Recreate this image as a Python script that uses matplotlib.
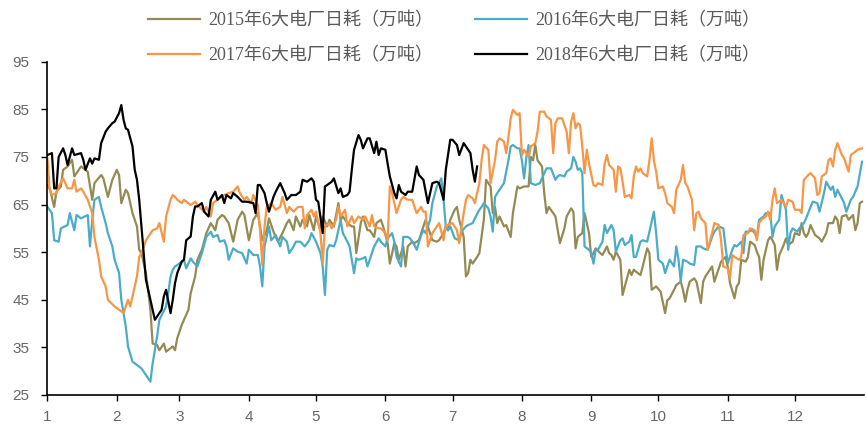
import matplotlib
matplotlib.use("Agg")
import matplotlib.pyplot as plt

# day-of-year positions and values (万吨)
d2015 = [0,1,3,4,6,7,9,11,12,14,15,18,20,21,24,25,27,29,31,32,33,35,36,38,40,41,42,44,45,46,47,49,50,52,53,56,
         57,58,60,61,63,64,66,67,69,71,73,75,76,78,79,81,83,85,87,88,90,92,94,95,96,98,99,101,103,105,107,108,110,111,113,114,116,117,
         119,120,122,123,125,126,128,130,131,132,134,136,137,138,140,141,143,144,146,147,149,150,152,153,155,156,157,159,160,161,163,164,166,167,169,170,172,174,175,177,178,
         179,180,182,183,184,186,187,188,189,190,192,193,195,196,198,199,200,201,202,204,205,207,208,210,211,213,215,216,217,218,219,221,222,223,224,226,227,229,231,232,234,235,236,237,
         239,240,242,243,244,245,247,248,250,251,252,253,254,256,257,258,260,261,262,263,265,266,268,269,270,272,274,276,277,278,280,281,283,284,285,286,287,289,290,292,293,294,295,297,298,
         300,301,303,304,305,307,308,309,310,312,313,314,316,317,318,319,320,322,323,324,325,326,327,329,330,331,333,334,336,337,338,339,340,341,343,345,346,348,349,351,352,353,354,355,357,358,360,361,362,363,364]
v2015 = [69.1,68.4,64.5,67.7,68.8,72.3,73.0,74.4,70.9,72.3,73.0,71.9,66.0,69.5,71.2,70.5,66.6,70.2,72.3,71.2,65.3,68.1,67.4,63.2,60.4,55.5,54.8,50.6,47.0,42.9,35.8,35.5,34.4,35.8,34.1,35.2,
         34.4,36.9,39.7,40.8,42.9,46.4,49.9,53.4,55.5,59.0,61.1,59.6,61.8,62.8,62.5,61.1,57.2,61.8,63.5,62.8,57.5,61.8,63.2,60.4,57.5,59.6,62.1,59.3,57.2,59.0,61.1,61.8,59.6,62.5,60.4,61.8,60.4,62.8,
         59.6,62.5,59.6,62.5,60.4,61.8,60.4,65.3,61.8,62.5,61.1,60.4,60.4,54.8,61.1,62.5,59.6,59.6,58.2,61.1,61.8,60.4,56.9,52.6,56.9,56.2,53.4,56.2,52.0,56.2,57.2,56.9,57.5,59.0,61.8,60.4,57.5,57.2,57.5,59.0,60.4,
         59.6,61.8,63.9,64.5,61.8,58.2,49.9,50.6,53.4,52.6,54.0,54.8,61.8,70.2,68.8,63.2,64.5,61.1,62.5,60.4,60.7,58.2,63.2,68.8,68.4,68.8,68.8,75.0,74.3,77.5,74.3,73.0,67.4,63.2,64.5,63.2,62.5,56.9,60.0,62.5,64.2,63.5,55.8,58.2,
         59.0,63.2,59.0,54.0,54.8,55.8,54.8,54.4,56.2,54.8,54.4,53.4,55.1,53.4,46.0,47.8,51.3,50.2,51.3,50.9,50.2,52.0,55.8,54.8,47.1,47.8,46.7,42.2,44.9,45.3,47.1,48.1,48.8,47.1,44.6,47.1,48.8,49.5,48.8,44.3,48.8,49.9,50.6,52.0,48.8,
         51.6,53.0,54.0,52.0,48.5,45.3,47.8,48.5,53.4,53.0,54.0,57.2,56.5,55.1,54.0,49.2,53.4,57.5,58.2,57.5,56.5,51.3,54.4,56.5,57.9,56.5,57.2,59.0,58.6,61.1,59.0,58.2,59.0,60.7,58.6,57.9,57.2,59.0,61.1,61.1,62.5,61.8,59.0,62.5,62.8,61.8,62.8,59.6,61.1,65.3,65.6]

d2016 = [0,2,3,5,6,9,10,12,13,15,18,19,20,21,23,24,26,27,29,30,32,33,35,36,38,40,42,44,46,47,49,50,53,54,55,56,
         57,58,61,62,64,65,67,69,71,73,74,76,77,79,80,81,83,85,87,89,90,92,94,95,96,97,99,100,102,104,105,107,108,110,111,113,115,117,118,
         120,122,123,124,125,126,128,129,131,132,134,135,137,138,139,141,142,143,145,146,148,149,151,152,154,155,156,158,159,161,162,164,165,167,168,169,171,172,174,176,177,178,
         179,180,182,184,185,187,188,190,191,193,194,195,197,198,199,200,201,203,204,206,207,208,210,211,212,213,214,215,216,218,220,222,223,225,227,228,229,231,232,234,235,236,237,
         238,239,240,242,243,244,245,246,248,249,250,252,253,254,256,257,258,260,261,262,263,265,266,268,269,271,272,273,275,276,277,278,280,281,282,283,284,286,287,289,290,292,293,295,297,298,
         300,302,303,304,306,307,308,310,311,312,313,315,316,317,318,320,321,323,324,325,327,328,330,331,332,333,335,336,338,339,341,342,344,345,347,348,350,351,352,353,355,356,357,359,360,362,364]
v2016 = [64.5,63.2,57.5,57.2,60.0,60.7,63.2,59.6,62.8,62.1,62.8,56.2,61.8,66.0,66.6,64.5,61.1,59.0,56.2,53.4,50.6,45.0,39.4,35.2,32.0,31.3,30.6,29.2,27.8,31.6,37.3,40.8,43.6,46.4,49.9,51.3,
         52.0,52.3,53.4,51.6,53.7,53.0,52.0,54.8,58.2,59.3,58.2,58.6,57.2,57.5,56.2,53.4,55.8,55.1,54.8,52.6,55.5,54.4,54.4,52.0,47.8,56.2,60.4,57.5,58.6,56.2,58.2,57.2,54.8,56.2,57.2,57.2,56.2,57.5,59.0,
         57.2,54.8,52.0,46.0,55.5,56.5,56.2,57.5,61.8,59.0,57.2,56.2,50.6,53.7,53.4,53.7,54.0,52.0,54.8,56.2,57.9,57.2,56.2,57.9,59.0,57.2,54.0,52.0,58.2,58.2,57.9,56.5,55.5,58.6,59.6,59.0,61.8,65.3,68.8,70.5,66.0,60.4,
         59.6,60.4,57.9,57.5,59.3,60.4,60.7,61.1,62.1,63.9,64.5,65.3,64.2,62.5,59.3,66.6,67.4,68.8,69.5,74.3,77.2,77.5,76.8,76.8,74.3,70.5,75.0,77.5,69.5,69.1,69.5,71.6,72.6,72.6,70.2,70.9,71.2,70.9,71.9,72.6,75.0,74.0,72.3,
         72.6,71.6,56.2,55.5,54.8,52.6,55.5,55.5,57.2,60.7,59.0,60.7,59.6,55.1,57.5,57.9,56.5,57.2,58.6,54.0,54.0,57.2,57.5,57.2,59.3,63.5,59.0,53.4,52.6,50.6,52.0,53.4,52.0,56.2,53.4,48.8,53.4,53.0,52.6,52.3,56.2,56.2,55.8,55.5,58.2,59.3,
         60.4,60.0,56.2,52.6,55.5,56.5,56.2,57.2,54.8,59.3,59.3,59.6,59.0,58.2,61.8,62.5,63.2,63.2,58.2,60.4,61.8,67.0,63.9,55.5,59.0,60.0,59.3,60.0,61.1,62.1,64.5,65.6,65.3,63.5,67.4,69.8,68.1,68.8,66.6,68.1,66.3,65.3,63.5,66.0,66.6,68.8,74.0]

d2017 = [0,1,2,4,5,7,9,11,12,13,15,16,18,20,21,23,24,26,27,30,32,34,36,37,39,40,41,42,44,47,49,50,52,53,55,56,
         57,58,60,61,64,66,67,70,71,73,74,76,79,81,83,85,86,88,89,91,92,94,95,96,97,98,100,102,104,105,107,108,110,112,114,115,116,118,
         119,120,122,123,124,126,127,129,130,131,133,134,136,137,139,141,142,144,145,146,148,149,151,152,153,154,156,158,159,161,163,164,165,167,168,169,170,172,174,175,177,178,
         179,181,183,184,186,187,188,190,191,193,194,195,197,198,200,201,202,203,204,205,206,207,208,210,211,212,213,215,216,218,219,220,222,223,225,226,227,228,230,231,232,233,234,235,236,237,
         238,239,240,241,242,244,245,246,248,249,250,251,253,254,255,256,257,258,260,261,262,263,264,265,266,268,269,270,271,272,273,275,276,277,279,280,281,283,284,285,286,287,288,289,290,291,292,294,295,297,298,
         300,301,302,304,305,306,307,309,310,311,313,314,316,317,318,319,321,322,323,324,325,326,328,330,331,333,334,336,337,338,340,341,343,344,345,346,348,349,350,351,352,353,355,356,358,359,361,362,364]
v2017 = [74.7,68.1,67.0,67.4,68.8,70.5,68.4,68.4,70.2,67.7,68.4,67.7,66.0,63.2,58.2,53.4,49.9,47.8,45.0,43.6,42.9,42.2,45.0,43.6,47.8,49.9,54.0,54.8,57.5,59.6,60.0,61.1,57.2,62.5,66.0,67.0,
         66.6,66.0,65.3,66.0,64.9,65.6,64.9,63.5,64.5,62.5,65.3,66.0,67.0,67.4,67.7,68.8,67.4,66.0,66.6,65.3,67.0,64.9,59.6,52.3,60.4,64.5,65.3,63.9,64.5,66.6,63.2,64.5,63.5,64.5,64.5,60.0,62.8,63.9,
         62.5,63.5,59.0,52.6,60.4,61.1,60.0,61.8,64.5,62.5,63.9,60.4,62.5,61.1,62.5,61.8,62.5,60.4,62.8,60.4,60.0,60.0,59.0,57.5,68.8,67.4,63.2,66.0,66.6,66.0,66.0,64.5,63.2,64.5,63.5,63.5,56.2,59.0,60.4,61.1,57.5,60.7,
         60.7,61.1,59.6,56.9,63.2,66.0,67.0,66.3,65.3,69.5,74.3,77.5,76.5,69.5,74.3,78.2,78.9,78.6,78.2,75.8,79.2,83.1,84.9,83.8,84.2,75.4,76.5,75.0,77.2,77.9,80.3,84.5,84.5,83.5,82.8,75.8,82.1,83.1,83.1,81.7,80.3,75.8,82.4,84.2,81.0,82.1,
         81.7,77.2,71.6,76.5,73.6,69.1,68.8,69.5,69.1,73.6,75.4,73.3,72.3,67.7,73.0,72.6,69.8,66.6,67.0,66.3,70.9,73.0,71.9,72.6,71.6,70.9,74.3,78.9,74.3,71.9,68.4,68.8,67.4,65.3,64.5,63.2,68.1,70.2,73.3,69.5,68.8,67.4,66.0,59.6,63.2,63.5,62.1,61.1,55.5,59.0,61.1,
         60.7,57.5,52.0,51.6,49.5,54.4,54.0,53.4,54.0,58.6,59.0,60.0,59.6,57.5,61.1,61.8,62.5,63.5,61.8,66.0,68.4,65.3,66.0,64.5,66.0,65.6,63.9,63.9,63.2,70.2,71.2,71.6,70.5,67.0,67.4,70.9,71.6,74.3,74.7,73.0,76.5,77.9,75.4,74.7,71.9,75.4,76.1,76.5,76.8]

d2018 = [0,2,3,4,5,7,8,9,11,12,15,16,17,19,20,21,23,24,26,27,29,30,32,33,34,35,36,38,39,40,41,42,43,44,46,48,50,51,52,53,55,56,57,
         58,60,61,62,64,65,66,67,69,70,72,73,75,76,78,79,80,82,83,85,87,89,92,93,94,95,97,98,99,101,102,104,106,107,109,111,113,114,116,118,
         119,120,121,123,124,125,127,128,130,131,132,134,135,136,137,139,140,141,143,144,146,147,148,149,151,152,153,155,156,157,158,160,161,163,165,166,168,169,170,172,174,175,177,178,180,
         181,183,184,186,187,189,190,191,192]
v2018 = [75.4,75.8,68.4,68.4,75.0,76.8,75.4,73.3,76.8,75.4,75.8,74.4,72.3,74.7,73.6,74.7,74.4,77.9,80.3,81.0,82.1,82.4,84.2,85.9,82.8,81.0,80.7,77.2,72.3,70.2,66.0,60.4,54.8,49.2,45.0,40.8,42.2,42.9,45.7,47.1,42.2,45.0,48.5,
         50.6,53.0,53.4,57.5,58.3,62.5,64.6,64.6,65.3,63.5,62.5,66.0,67.7,66.0,67.0,65.3,67.0,66.3,67.4,66.6,65.6,65.6,65.3,63.2,69.1,69.1,67.4,65.3,63.5,66.6,67.7,69.5,67.4,66.0,67.0,67.0,67.7,70.2,69.8,70.5,
         69.8,66.0,65.6,59.0,68.8,69.1,69.8,70.5,67.4,68.4,66.6,67.0,67.7,72.3,76.5,79.6,78.6,76.8,78.9,78.9,75.8,78.2,75.4,76.8,76.5,73.6,70.9,67.4,66.3,69.1,67.7,67.0,67.7,67.7,73.0,71.2,70.2,67.7,65.3,69.5,69.8,69.5,66.0,72.3,78.6,
         78.6,77.5,75.4,77.9,77.2,75.8,72.3,69.8,73.0]

labels = ["2015年6大电厂日耗（万吨）", "2016年6大电厂日耗（万吨）",
          "2017年6大电厂日耗（万吨）", "2018年6大电厂日耗（万吨）"]
colors = ["#948A54", "#4BACC6", "#F79646", "#000000"]
month_start = [0, 31, 59, 90, 120, 151, 181, 212, 243, 273, 304, 334]
month_labels = ["1", "2", "3", "4", "5", "6", "7", "8", "9", "10", "11", "12"]
y_ticks = [25, 35, 45, 55, 65, 75, 85, 95]

fig = plt.figure(figsize=(8.66, 4.30), dpi=100)
ax = fig.add_axes([0.0548, 0.0814, 0.9432, 0.7751])

series = [(d2015, v2015), (d2016, v2016), (d2017, v2017), (d2018, v2018)]
handles = []
for (dx, vy), lab, c in zip(series, labels, colors):
    h, = ax.plot(dx, vy, color=c, lw=1.6, label=lab, solid_joinstyle="round")
    handles.append(h)

ax.set_xlim(0, 365)
ax.set_ylim(25, 95)
ax.set_xticks(month_start)
ax.set_xticklabels(month_labels)
ax.set_yticks(y_ticks)
ax.set_yticklabels([str(t) for t in y_ticks])
for s in ["top", "right"]:
    ax.spines[s].set_visible(False)
for s in ["left", "bottom"]:
    ax.spines[s].set_color("black")
    ax.spines[s].set_linewidth(1.2)
ax.tick_params(axis="both", direction="out", length=4, width=1, color="black",
               labelcolor="#666666", labelsize=11)
ax.tick_params(axis="x", pad=7)
ax.tick_params(axis="y", pad=9)
for t in ax.get_xticklabels() + ax.get_yticklabels():
    t.set_family(["Liberation Sans Narrow", "Liberation Sans", "DejaVu Sans"])

# legend filled row by row: (2015, 2016) then (2017, 2018)
order = [0, 2, 1, 3]
leg = fig.legend(handles=[handles[i] for i in order], labels=[labels[i] for i in order],
                 loc="upper left", bbox_to_anchor=(0.152, 1.01), ncol=2, frameon=False,
                 handlelength=2.9, handletextpad=0.45, columnspacing=2.3,
                 labelspacing=1.0,
                 prop={"family": ["Liberation Serif", "Noto Sans CJK SC"], "size": 13})
for t in leg.get_texts():
    t.set_color("#595959")

fig.savefig("out.png", dpi=100)
